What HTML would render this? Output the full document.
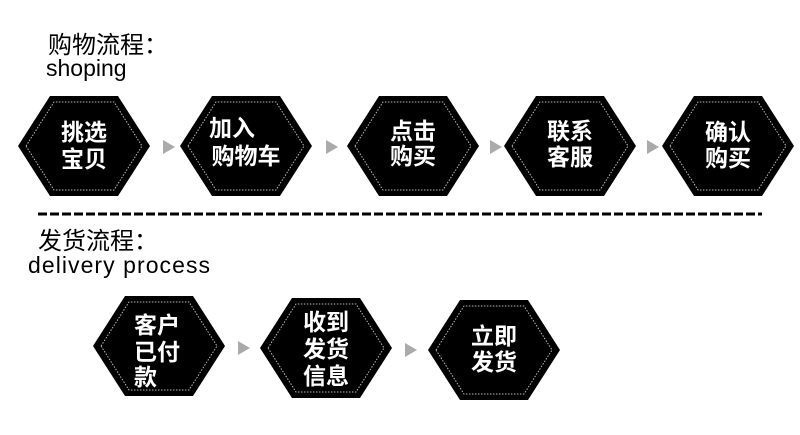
<!DOCTYPE html>
<html><head><meta charset="utf-8"><style>
body{margin:0;width:800px;height:430px;background:#fff;overflow:hidden}
svg text{font-family:"Liberation Sans","Noto Sans CJK SC",sans-serif}
</style></head><body>
<svg width="800" height="430" viewBox="0 0 800 430" xmlns="http://www.w3.org/2000/svg">
<defs>
<g id="hx">
<polygon points="-66,0 -34,-50 34,-50 66,0 34,50 -34,50" fill="#000"/>
<polygon points="-58,0 -30,-44 30,-44 58,0 30,44 -30,44" fill="none" stroke="#bbb" stroke-width="1" stroke-dasharray="1.5,1.5"/>
</g>
<polygon id="ar" points="0,-7 12,0 0,7" fill="#aaa"/>
</defs>
<text x="48" y="53" font-size="24" fill="#000">购物流程：</text>
<text x="46" y="76" font-size="23" fill="#000">shoping</text>
<use href="#hx" x="84" y="146"/>
<use href="#hx" x="246" y="146"/>
<use href="#hx" x="413" y="146"/>
<use href="#hx" x="570" y="146"/>
<use href="#hx" x="728" y="146"/>
<use href="#ar" x="163" y="147"/>
<use href="#ar" x="326" y="147"/>
<use href="#ar" x="490" y="147"/>
<use href="#ar" x="647" y="147"/>
<g fill="#fff" font-size="23" font-weight="bold" text-anchor="middle">
<text x="84" y="140">挑选</text><text x="84" y="167">宝贝</text>
<text x="232" y="136">加入</text><text x="246" y="164">购物车</text>
<text x="413" y="139">点击</text><text x="413" y="164">购买</text>
<text x="570" y="139">联系</text><text x="570" y="165">客服</text>
<text x="728" y="140">确认</text><text x="728" y="166">购买</text>
</g>
<line x1="38" y1="214" x2="762" y2="214" stroke="#000" stroke-width="3" stroke-dasharray="9,3"/>
<text x="38" y="249" font-size="24" fill="#000">发货流程：</text>
<text x="28" y="273" font-size="23" fill="#000" textLength="182" lengthAdjust="spacing">delivery  process</text>
<use href="#hx" x="159" y="346"/>
<use href="#hx" x="326" y="348"/>
<use href="#hx" x="494" y="350"/>
<use href="#ar" x="238" y="348"/>
<use href="#ar" x="405" y="350"/>
<g fill="#fff" font-size="23" font-weight="bold">
<text x="134" y="333">客户</text><text x="134" y="360">已付</text><text x="134" y="385">款</text>
</g>
<g fill="#fff" font-size="23" font-weight="bold" text-anchor="middle">
<text x="326" y="330">收到</text><text x="326" y="357">发货</text><text x="326" y="384">信息</text>
<text x="494" y="344">立即</text><text x="494" y="370">发货</text>
</g>
</svg>
</body></html>
